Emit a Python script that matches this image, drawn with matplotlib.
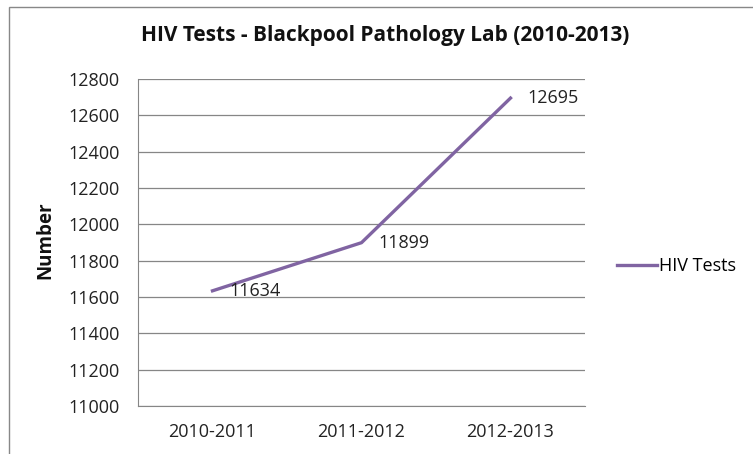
import matplotlib
matplotlib.use("Agg")
from matplotlib import pyplot as plt
from matplotlib.patches import Rectangle

# data
years = ["2010-2011", "2011-2012", "2012-2013"]
tests = [11634, 11899, 12695]
yticks = [11000, 11200, 11400, 11600, 11800, 12000, 12200, 12400, 12600, 12800]

plt.rcParams['font.family'] = ['Open Sans', 'DejaVu Sans']
W, H = 753, 454
fig = plt.figure(figsize=(W / 100, H / 100), dpi=100)

# outer chart frame (Excel style)
fig.patches.append(Rectangle((9 / W, -0.1), 1.2, 1 - 7 / H + 0.1, transform=fig.transFigure,
                             fill=False, edgecolor="#888888", linewidth=1))

ax = fig.add_axes([138 / W, 1 - 406 / H, 447 / W, 327 / H])
x = list(range(len(years)))
line, = ax.plot(x, tests, color="#8064A2", linewidth=2.4, label="HIV Tests")

for xi, v in zip(x, tests):
    ax.annotate(str(v), (xi, v), xytext=(12, 0), textcoords="offset points",
                ha="left", va="center", fontsize=13, color="#222222")

ax.set_xlim(-0.5, 2.5)
ax.set_ylim(11000, 12800)
ax.set_yticks(yticks)
ax.set_xticks(x)
ax.set_xticklabels(years)
ax.tick_params(axis="both", length=0, labelsize=13, colors="#222222")
ax.tick_params(axis="x", pad=12)
ax.tick_params(axis="y", pad=13)
ax.grid(axis="y", color="#868686", linewidth=0.9)
ax.set_axisbelow(True)
for s in ["top", "right"]:
    ax.spines[s].set_visible(False)
for s in ["left", "bottom"]:
    ax.spines[s].set_color("#868686")

fig.text(45 / W, 1 - 240 / H, "Number", rotation=90, ha="center", va="center",
         fontsize=13.5, fontweight="bold", color="#111111")
fig.text(385 / W, 1 - 36 / H, "HIV Tests - Blackpool Pathology Lab (2010-2013)",
         ha="center", va="center", fontsize=15, fontweight="bold", color="#111111")

fig.legend(handles=[line], loc="center left", bbox_to_anchor=(617 / W, 1 - 266 / H),
           frameon=False, fontsize=13, handlelength=2.2, handletextpad=0.15,
           borderaxespad=0, borderpad=0)

fig.savefig("out.png", dpi=100)
